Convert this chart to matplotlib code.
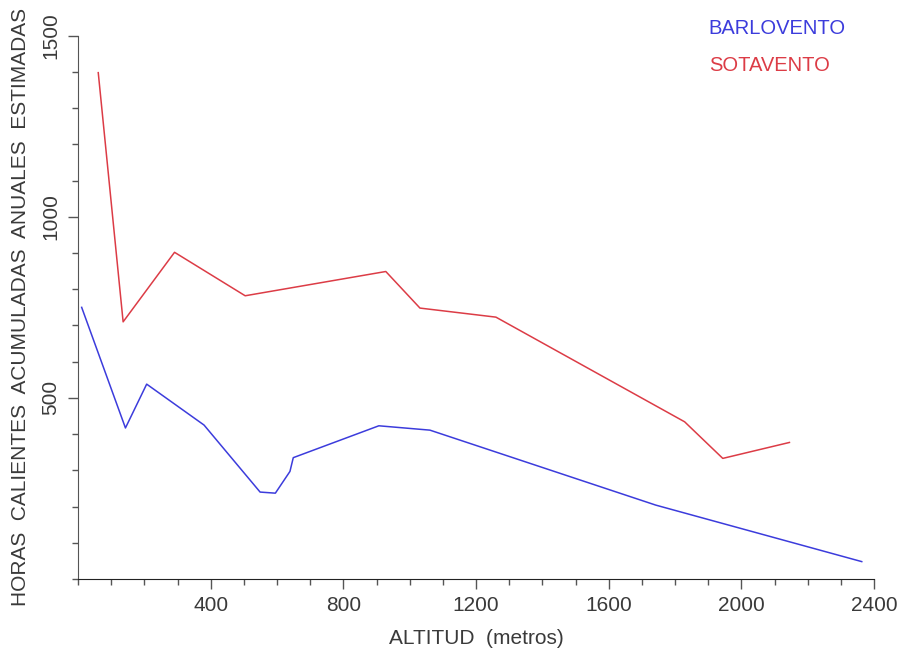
import matplotlib
matplotlib.use('Agg')
import matplotlib.pyplot as plt
from matplotlib.ticker import MultipleLocator, FixedLocator

plt.rcParams['font.family'] = ['Liberation Sans', 'DejaVu Sans']

# barlovento (windward)
barl_alt = [11, 143, 207, 380, 549, 595, 639, 649, 907, 1061, 1742, 2363]
barl_horas = [750, 417, 538, 425, 240, 237, 297, 335, 423, 411, 204, 48]

# sotavento (leeward)
sota_alt = [61, 136, 291, 504, 928, 1031, 1260, 1829, 1944, 2145]
sota_horas = [1398, 710, 902, 782, 849, 748, 723, 434, 333, 377]

xticks = [400, 800, 1200, 1600, 2000, 2400]
yticks = [500, 1000, 1500]

blue = '#3c3cdc'
red = '#dc3c46'
grey = '#555555'
txt = '#3a3a3a'

fig = plt.figure(figsize=(9.03, 6.59), dpi=100)
ax = fig.add_axes([0.0864, 0.1214, 0.8815, 0.8244])

ax.plot(barl_alt, barl_horas, color=blue, lw=1.1)
ax.plot(sota_alt, sota_horas, color=red, lw=1.1)

ax.set_xlim(0, 2400)
ax.set_ylim(0, 1500)
ax.xaxis.set_major_locator(FixedLocator(xticks))
ax.yaxis.set_major_locator(FixedLocator(yticks))
ax.xaxis.set_minor_locator(MultipleLocator(100))
ax.yaxis.set_minor_locator(MultipleLocator(100))

for s in ['top', 'right']:
    ax.spines[s].set_visible(False)
ax.spines['left'].set_color(grey)
ax.spines['bottom'].set_color('#222222')

ax.tick_params(which='major', length=7, width=1, color=grey, labelsize=15,
               labelcolor=txt, pad=5)
ax.tick_params(which='minor', length=4.5, width=1, color=grey)
ax.tick_params(axis='y', labelrotation=90, pad=6)
for lab in ax.get_yticklabels():
    lab.set_va('center')

ax.set_xlabel('ALTITUD  (metros)', fontsize=15, color=txt, labelpad=10)
ax.set_ylabel('HORAS  CALIENTES  ACUMULADAS  ANUALES  ESTIMADAS', fontsize=15,
              color=txt, labelpad=8)

fig.text(0.785, 0.9575, 'BARLOVENTO', color=blue, fontsize=14.5, va='center')
fig.text(0.785, 0.901, 'SOTAVENTO', color=red, fontsize=14.5, va='center')

fig.savefig('out.png', dpi=100)
